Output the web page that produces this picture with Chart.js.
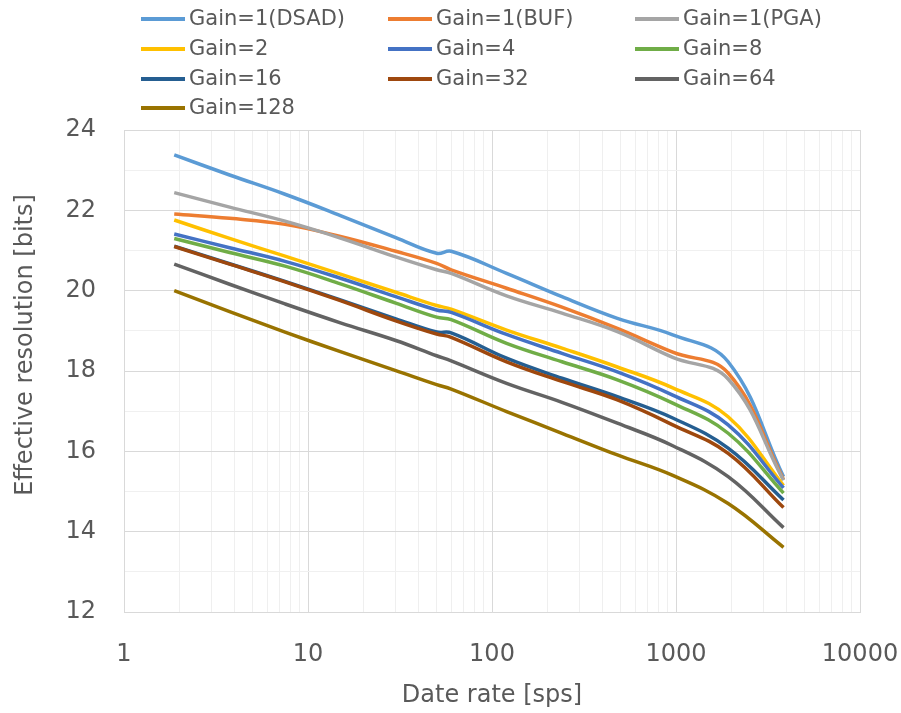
<!DOCTYPE html>
<html>
<head>
<meta charset="utf-8">
<title>Effective resolution vs data rate</title>
<script src="https://cdn.jsdelivr.net/npm/chart.js@4/dist/chart.umd.min.js"></script>
<style>
  html, body { margin: 0; padding: 0; background: #fff; }
  #wrap { position: relative; width: 901px; height: 713px; }
  #legend { position: absolute; left: 0; top: 0; width: 901px; height: 125px;
            font-family: 'DejaVu Sans', sans-serif; font-size: 21px; color: #595959; }
  .item { position: absolute; height: 30px; line-height: 30px; white-space: nowrap; }
  .swatch { display: inline-block; width: 44px; height: 4px; margin-right: 4px; vertical-align: middle; }
</style>
</head>
<body>
<div id="wrap">
  <canvas id="chart" width="901" height="713"></canvas>
  <div id="legend"></div>
</div>
<script>
// data rates [sps] of the measured points
const rates = [1.875, 3.75, 7.5, 15, 30, 50, 60, 120, 240, 480, 960, 1920, 3840];

const seriesNames = ['Gain=1(DSAD)', 'Gain=1(BUF)', 'Gain=1(PGA)', 'Gain=2', 'Gain=4',
                     'Gain=8', 'Gain=16', 'Gain=32', 'Gain=64', 'Gain=128'];
const seriesColors = ['#5B9BD5', '#ED7D31', '#A5A5A5', '#FFC000', '#4472C4',
                      '#70AD47', '#255E91', '#9E480E', '#636363', '#997300'];

// effective resolution [bits]
const dsad    = [23.38, 22.88, 22.40, 21.87, 21.32, 20.93, 20.98, 20.43, 19.85, 19.31, 18.90, 18.23, 15.37];
const buf     = [21.91, 21.80, 21.65, 21.35, 20.98, 20.68, 20.52, 20.06, 19.59, 19.06, 18.47, 17.95, 15.30];
const pga     = [22.44, 22.08, 21.73, 21.31, 20.84, 20.52, 20.43, 19.87, 19.44, 18.98, 18.34, 17.80, 15.28];
const gain2   = [21.76, 21.30, 20.86, 20.41, 19.96, 19.63, 19.54, 19.02, 18.57, 18.10, 17.58, 16.86, 15.15];
const gain4   = [21.41, 21.07, 20.73, 20.31, 19.85, 19.52, 19.46, 18.91, 18.44, 17.98, 17.40, 16.66, 15.09];
const gain8   = [21.30, 20.95, 20.61, 20.17, 19.69, 19.34, 19.28, 18.69, 18.23, 17.78, 17.20, 16.45, 14.96];
const gain16  = [21.11, 20.67, 20.23, 19.77, 19.30, 18.97, 18.95, 18.32, 17.82, 17.36, 16.83, 16.08, 14.79];
const gain32  = [21.10, 20.66, 20.22, 19.75, 19.25, 18.92, 18.84, 18.23, 17.74, 17.28, 16.66, 15.95, 14.60];
const gain64  = [20.66, 20.16, 19.67, 19.20, 18.76, 18.38, 18.25, 17.69, 17.22, 16.70, 16.14, 15.37, 14.10];
const gain128 = [20.00, 19.48, 18.97, 18.48, 18.01, 17.66, 17.55, 16.99, 16.45, 15.91, 15.40, 14.70, 13.61];

const seriesValues = [dsad, buf, pga, gain2, gain4, gain8, gain16, gain32, gain64, gain128];

const xTickLabels = [1, 10, 100, 1000, 10000];
const yTickLabels = [12, 14, 16, 18, 20, 22, 24];
const xTitle = 'Date rate [sps]';
const yTitle = 'Effective resolution [bits]';

// gridlines at 1..9 of every decade
const xGrid = [];
for (const d of xTickLabels.slice(0, -1)) {
  for (let m = 1; m < 10; m++) xGrid.push(d * m);
}
xGrid.push(10000);
const xMajor = new Set(xTickLabels);

Chart.defaults.font.family = "'DejaVu Sans', sans-serif";
Chart.defaults.color = '#595959';

// Excel-style: later series painted on top
const datasets = seriesNames.map((name, i) => ({
  label: name,
  data: rates.map((x, j) => ({ x, y: seriesValues[i][j] })),
  borderColor: seriesColors[i],
  backgroundColor: seriesColors[i],
  borderWidth: 3.5,
  pointRadius: 0,
  tension: 0.4,
  fill: false,
  order: -i,
}));

const yTitlePlugin = {
  id: 'yTitle',
  afterDraw(chart) {
    const ctx = chart.ctx;
    ctx.save();
    ctx.translate(26, 345);
    ctx.rotate(-Math.PI / 2);
    ctx.font = "24px 'DejaVu Sans'";
    ctx.fillStyle = '#595959';
    ctx.textAlign = 'center';
    ctx.textBaseline = 'middle';
    ctx.fillText(yTitle, 0, 0);
    ctx.restore();
  }
};

new Chart(document.getElementById('chart'), {
  type: 'line',
  data: { datasets },
  plugins: [yTitlePlugin],
  options: {
    responsive: false,
    animation: false,
    devicePixelRatio: 1,
    layout: { padding: { top: 130, right: 41, bottom: 0, left: 0 } },
    plugins: { legend: { display: false }, tooltip: { enabled: false } },
    scales: {
      x: {
        type: 'logarithmic',
        min: 1,
        max: 10000,
        afterBuildTicks: s => { s.ticks = xGrid.map(v => ({ value: v, major: xMajor.has(v) })); },
        afterFit: s => { s.height = 101; s.paddingLeft = 0; s.paddingRight = 0; },
        ticks: {
          autoSkip: false,
          maxRotation: 0,
          padding: 28,
          font: { size: 24 },
          callback: v => xMajor.has(v) ? String(v) : '',
        },
        grid: {
          drawTicks: false,
          color: c => (c.tick && xMajor.has(c.tick.value)) ? '#d9d9d9' : '#efefef',
        },
        border: { color: '#d9d9d9' },
        title: { display: true, text: xTitle, font: { size: 24 }, padding: { top: 0, bottom: 3 } },
      },
      y: {
        min: 12,
        max: 24,
        afterBuildTicks: s => {
          const t = [];
          for (let v = 12; v <= 24; v++) t.push({ value: v });
          s.ticks = t;
        },
        afterFit: s => { s.width = 124; s.paddingTop = 0; s.paddingBottom = 0; },
        ticks: {
          padding: 28,
          font: { size: 24 },
          callback: v => yTickLabels.includes(v) ? String(v) : '',
        },
        grid: {
          drawTicks: false,
          color: c => (c.tick && c.tick.value % 2 === 0) ? '#d9d9d9' : '#f0f0f0',
        },
        border: { color: '#d9d9d9' },
      },
    },
  },
});

// legend in three fixed columns
const legendCols = [141, 388, 635];
const legendRows = [18, 48, 78, 107];
const legend = document.getElementById('legend');
seriesNames.forEach((name, i) => {
  const item = document.createElement('div');
  item.className = 'item';
  item.style.left = legendCols[i % 3] + 'px';
  item.style.top = (legendRows[Math.floor(i / 3)] - 15) + 'px';
  const sw = document.createElement('span');
  sw.className = 'swatch';
  sw.style.background = seriesColors[i];
  item.appendChild(sw);
  item.appendChild(document.createTextNode(name));
  legend.appendChild(item);
});
</script>
</body>
</html>
